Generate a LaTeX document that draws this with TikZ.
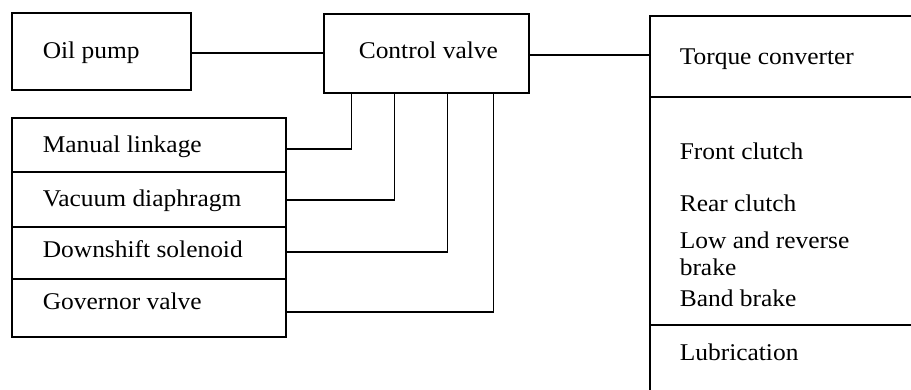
\documentclass[tikz,border=0pt]{standalone}
\usepackage{fontspec}
\setmainfont{Liberation Serif}[FakeStretch=1.06]
\begin{document}
\begin{tikzpicture}[x=1pt,y=-1pt,
  every path/.style={line width=1.6pt},
  box/.style={draw, line width=1.6pt, rectangle, inner sep=0pt},
  lbl/.style={anchor=base west, inner sep=0pt, font=\fontsize{24}{26}\selectfont},
  wire/.style={draw, line width=1.4pt}]
\useasboundingbox (0,0) rectangle (911,390);
% boxes
\node[box, minimum width=179pt, minimum height=77pt] (op) at (101.5,51.5) {};
\node[box, minimum width=205pt, minimum height=79pt] (cv) at (426.5,53.5) {};
\node[box, minimum width=274pt, minimum height=54pt] (ml) at (149,145) {};
\node[box, minimum width=274pt, minimum height=55pt] (vd) at (149,199.5) {};
\node[box, minimum width=274pt, minimum height=52pt] (ds) at (149,253) {};
\node[box, minimum width=274pt, minimum height=58pt] (gv) at (149,308) {};
% labels
\node[lbl] (top) at (42,59) {Oil pump};
\node[lbl] (tcv) at (358,59) {Control valve};
\node[lbl] (tml) at (42,153) {Manual linkage};
\node[lbl] (tvd) at (42,207) {Vacuum diaphragm};
\node[lbl] (tds) at (42,258) {Downshift solenoid};
\node[lbl] (tgv) at (42,310) {Governor valve};
% right open box
\coordinate (rtl) at (650,16);
\coordinate (rtr) at (911,16);
\coordinate (rbl) at (650,390);
\coordinate (rd1) at (650,97);
\coordinate (rd1r) at (911,97);
\coordinate (rd2) at (650,325);
\coordinate (rd2r) at (911,325);
\draw (rtr) -- (rtl) -- (rbl);
\draw (rd1) -- (rd1r);
\draw (rd2) -- (rd2r);
\coordinate (tcin) at (650,55);
\node[lbl] (ttc) at (679,65) {Torque converter};
\node[lbl] (tfc) at (679,160) {Front clutch};
\node[lbl] (trc) at (679,212) {Rear clutch};
\node[lbl] (tlr) at (679,249) {Low and reverse};
\node[lbl] (tlr2) at (679,276) {brake};
\node[lbl] (tbb) at (679,306) {Band brake};
\node[lbl] (tlu) at (679,360) {Lubrication};
% connectors
\draw[wire] ([yshift=-1.5pt]op.east) -- ([yshift=-1.5pt]op.east -| cv.west);
\draw[wire] ([yshift=-1.5pt]cv.east) -- (tcin);
\draw[wire] ([yshift=-4pt]ml.east) -| ([xshift=28pt]cv.south west);
\draw[wire] ([yshift=-0.5pt]vd.east) -| ([xshift=71pt]cv.south west);
\draw[wire] ([yshift=1pt]ds.east) -| ([xshift=124pt]cv.south west);
\draw[wire] ([yshift=-4pt]gv.east) -| ([xshift=170pt]cv.south west);
\end{tikzpicture}
\end{document}
